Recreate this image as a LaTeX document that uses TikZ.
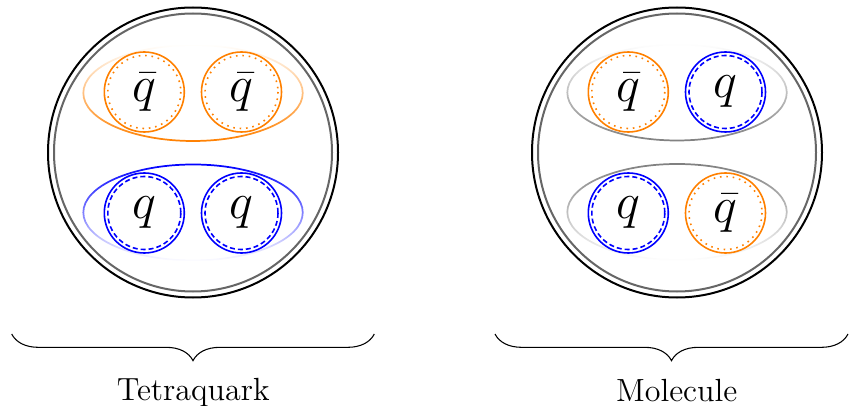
\documentclass[tikz,border=0pt]{standalone}
\usetikzlibrary{fadings,decorations.pathreplacing}
\newcommand{\bigsym}[1]{\scalebox{1.527}{\Huge$#1$}}
\newcommand{\biglabel}[1]{\scalebox{1.67}{\Large #1}}
\begin{document}
\begin{tikzpicture}[x=0.75pt,y=-0.75pt,
  outerring/.style={circle,draw=black,line width=1.5pt,minimum size=217.5pt,inner sep=0pt},
  innerring/.style={circle,draw=black!60,line width=1.5pt,minimum size=208.5pt,inner sep=0pt},
  quark/.style={circle,draw,line width=1.2pt,minimum size=60pt,inner sep=0pt},
  antiq/.style={quark,draw=orange},
  plainq/.style={quark,draw=blue},
  dotring/.style={draw=orange,line width=1.2pt,dash pattern=on 1.2pt off 3.6pt},
  dashring/.style={draw=blue,line width=1.2pt,dash pattern=on 3.75pt off 2.25pt},
  pairtop/.style={line width=1.3pt,path fading=north},
  pairbot/.style={line width=1.3pt,path fading=south},
  lbl/.style={anchor=base,inner sep=0pt},
  bracestyle/.style={decorate,decoration={brace,mirror,amplitude=20pt},line width=0.8pt}]
\useasboundingbox (0,0) rectangle (850,406);

% ---------- Tetraquark ----------
\node[outerring] (T) at (193,152.5) {};
\node[innerring] (Ti) at (193,152.5) {};
\coordinate (Te1) at (193,93);
\coordinate (Te2) at (193,212.5);
\draw[orange,pairtop] (Te1) ellipse [x radius=109.7,y radius=48];
\draw[blue,pairbot] (Te2) ellipse [x radius=109.7,y radius=48];
\node[antiq] (T1) at (144.3,92) {\bigsym{\bar{q}}};
\node[antiq] (T2) at (241.5,92) {\bigsym{\bar{q}}};
\node[plainq] (T3) at (144.3,213) {\bigsym{q}};
\node[plainq] (T4) at (241.5,213) {\bigsym{q}};
\draw[dotring] (T1.center) circle [radius=36.5];
\draw[dotring] (T2.center) circle [radius=36.5];
\draw[dashring] (T3.center) circle [radius=36.5];
\draw[dashring] (T4.center) circle [radius=36.5];

% ---------- Molecule ----------
\node[outerring] (M) at (677,152.5) {};
\node[innerring] (Mi) at (677,152.5) {};
\coordinate (Me1) at (677,92.5);
\coordinate (Me2) at (677,212);
\draw[black!50,pairtop] (Me1) ellipse [x radius=109.7,y radius=48];
\draw[black!50,pairbot] (Me2) ellipse [x radius=109.7,y radius=48];
\node[antiq] (M1) at (628.3,92) {\bigsym{\bar{q}}};
\node[plainq] (M2) at (725.5,92) {\bigsym{q}};
\node[plainq] (M3) at (628.3,213) {\bigsym{q}};
\node[antiq] (M4) at (725.5,213) {\bigsym{\bar{q}}};
\draw[dotring] (M1.center) circle [radius=36.5];
\draw[dashring] (M2.center) circle [radius=36.5];
\draw[dashring] (M3.center) circle [radius=36.5];
\draw[dotring] (M4.center) circle [radius=36.5];

% ---------- Braces and labels ----------
\coordinate (B1a) at (11.7,334);
\coordinate (B1b) at (374.3,334);
\coordinate (B2a) at (495,334);
\coordinate (B2b) at (848,334);
\draw[bracestyle] (B1a) -- (B1b);
\draw[bracestyle] (B2a) -- (B2b);
\node[lbl] (L1) at (193.3,400) {\biglabel{Tetraquark}};
\node[lbl] (L2) at (676.7,401.2) {\biglabel{Molecule}};
\end{tikzpicture}
\end{document}
